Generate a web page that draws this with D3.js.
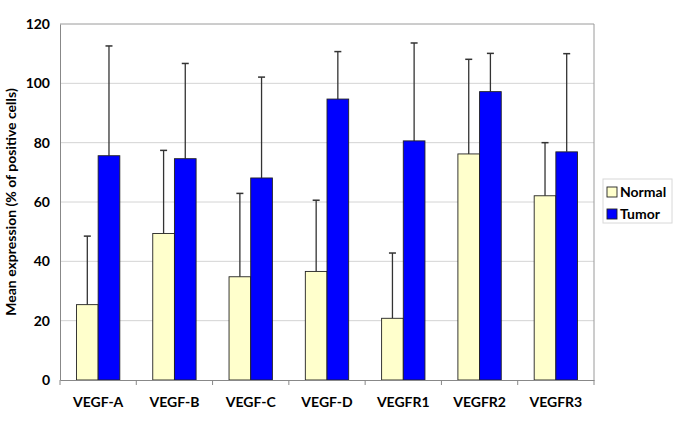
<!DOCTYPE html>
<html><head><meta charset="utf-8">
<script src="https://cdn.jsdelivr.net/npm/d3@7"></script>
<style>body{margin:0;background:#fff}svg{display:block}text{font-family:Lato,"Open Sans",sans-serif;font-weight:bold;fill:#000}</style>
</head><body><svg id="c" width="685" height="433"></svg>
<script>
const categories = ["VEGF-A","VEGF-B","VEGF-C","VEGF-D","VEGFR1","VEGFR2","VEGFR3"];
const seriesNames = ["Normal","Tumor"];
const normalMean = [25.4, 49.4, 34.8, 36.6, 20.8, 76.2, 62.1];
const normalSD   = [23.1, 28.0, 28.1, 24.0, 22.0, 31.9, 17.9];
const tumorMean  = [75.6, 74.6, 68.1, 94.7, 80.6, 97.2, 76.9];
const tumorSD    = [37.0, 32.1, 34.0, 16.0, 33.0, 12.9, 33.1];
const yTicks = [0, 20, 40, 60, 80, 100, 120];
const colors = ["#ffffcc", "#0000ff"];

const svg = d3.select("#c");
const L = 60, R = 594, T = 24, B = 380;
const x0 = d3.scaleBand().domain(categories).range([L, R]).paddingInner(0).paddingOuter(0);
const x1 = d3.scaleBand().domain(seriesNames).range([0, x0.bandwidth()]).paddingInner(0).paddingOuter(0.76);
const y = d3.scaleLinear().domain([0, 120]).range([B, T]);

// gridlines
svg.append("g").selectAll("line").data(yTicks.filter(d => d > 0 && d < 120)).join("line")
  .attr("x1", L).attr("x2", R).attr("y1", d => y(d)).attr("y2", d => y(d))
  .attr("stroke", "#d4d4d4").attr("stroke-width", 1);
// plot border top/right
svg.append("line").attr("x1", L).attr("x2", R).attr("y1", y(120)).attr("y2", y(120)).attr("stroke", "#9a9a9a");
svg.append("line").attr("x1", R).attr("x2", R).attr("y1", T).attr("y2", B).attr("stroke", "#9a9a9a");

const data = categories.map((c, i) => ({c, vals: [
  {s: "Normal", m: normalMean[i], sd: normalSD[i]},
  {s: "Tumor", m: tumorMean[i], sd: tumorSD[i]}]}));

const g = svg.append("g").selectAll("g").data(data).join("g")
  .attr("transform", d => `translate(${x0(d.c)},0)`);
const eb = g.selectAll("g.eb").data(d => d.vals).join("g").attr("class", "eb");
eb.append("line").attr("x1", d => x1(d.s) + x1.bandwidth()/2).attr("x2", d => x1(d.s) + x1.bandwidth()/2)
  .attr("y1", d => y(d.m)).attr("y2", d => y(d.m + d.sd)).attr("stroke", "#333").attr("stroke-width", 1.3);
eb.append("line").attr("x1", d => x1(d.s) + x1.bandwidth()/2 - 3.5).attr("x2", d => x1(d.s) + x1.bandwidth()/2 + 3.5)
  .attr("y1", d => y(d.m + d.sd)).attr("y2", d => y(d.m + d.sd)).attr("stroke", "#333").attr("stroke-width", 1.5);
g.selectAll("rect").data(d => d.vals).join("rect")
  .attr("x", d => x1(d.s)).attr("width", x1.bandwidth())
  .attr("y", d => y(d.m)).attr("height", d => y(0) - y(d.m))
  .attr("fill", (d, i) => colors[i]).attr("stroke", "#222").attr("stroke-width", 0.9);

// y axis
const ya = svg.append("g").attr("transform", `translate(${L},0)`)
  .call(d3.axisLeft(y).tickValues(yTicks).tickSize(0).tickPadding(10));
ya.select(".domain").attr("stroke", "#888");
ya.selectAll("text").attr("font-size", 14).attr("font-family", "Lato, sans-serif").attr("font-weight", "bold").attr("fill", "#000");

// x axis
const xa = svg.append("g").attr("transform", `translate(0,${B})`)
  .call(d3.axisBottom(x0).tickSize(0).tickPadding(17));
xa.select(".domain").attr("stroke", "#888");
xa.selectAll("text").attr("font-size", 14).attr("font-family", "Lato, sans-serif").attr("font-weight", "bold").attr("fill", "#000");
svg.append("g").selectAll("line").data(categories.map(c => x0(c)).concat([R])).join("line")
  .attr("x1", d => d).attr("x2", d => d).attr("y1", B).attr("y2", B + 5).attr("stroke", "#888");

// y title
svg.append("text").attr("transform", `translate(16,${(T+B)/2}) rotate(-90)`)
  .attr("text-anchor", "middle").attr("font-size", 14).text("Mean expression (% of positive cells)");

// legend
const lg = svg.append("g");
lg.append("rect").attr("x", 603).attr("y", 179).attr("width", 69).attr("height", 44)
  .attr("fill", "#fff").attr("stroke", "#d8d8d8");
seriesNames.forEach((s, i) => {
  lg.append("rect").attr("x", 607).attr("y", 187 + i * 22).attr("width", 10).attr("height", 10)
    .attr("fill", colors[i]).attr("stroke", "#222").attr("stroke-width", 0.9);
  lg.append("text").attr("x", 620).attr("y", 197 + i * 22).attr("font-size", 14).text(s);
});
</script></body></html>
